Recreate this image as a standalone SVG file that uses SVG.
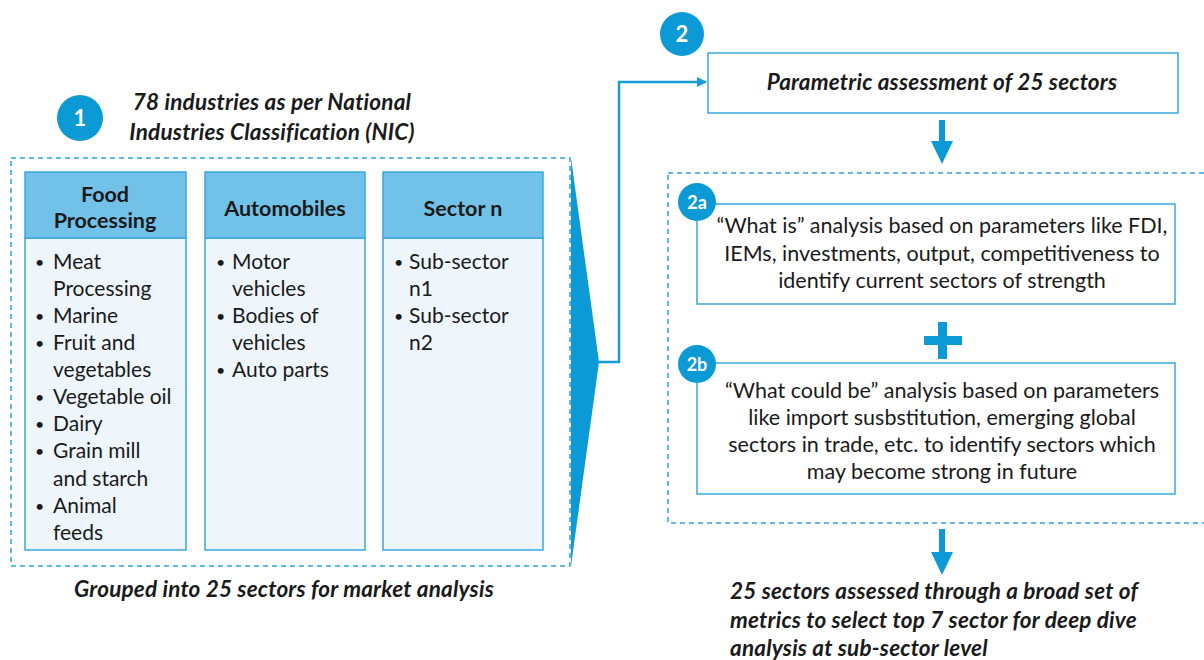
<svg xmlns="http://www.w3.org/2000/svg" width="1204" height="660" viewBox="0 0 1204 660">
<style>
text{font-family:Lato,"Noto Sans","Liberation Sans",sans-serif;fill:#1a1a1a}
.t{font-size:21px}
.t2{font-size:21.5px}
.bl{font-size:16px}
.bi{font-size:22.5px;font-weight:bold;font-style:italic;letter-spacing:0.2px}
.hd{font-size:21.5px;font-weight:bold;text-anchor:middle}
.c{text-anchor:middle}
.num{font-weight:bold;fill:#fff;text-anchor:middle}
.dash{fill:none;stroke:#2ea3dc;stroke-width:1.5;stroke-dasharray:5 4}
.hdr{fill:#72c1e9;stroke:#3aa8e0;stroke-width:1.5}
.body{fill:#eef5fb;stroke:#3aa8e0;stroke-width:1.5}
.box{fill:#fff;stroke:#3aa8e0;stroke-width:1.5}
.circ{fill:#0c9ad6}
</style>
<defs>
<marker id="ah" markerWidth="10" markerHeight="10" refX="9" refY="5" orient="auto" markerUnits="userSpaceOnUse">
<path d="M0,0 L10,5 L0,10 Z" fill="#1a9ad6"/>
</marker>
</defs>

<g id="node1">
<circle class="circ" cx="80" cy="118" r="23"/>
<text class="num" x="80" y="126" font-size="22">1</text>
<text class="bi c" x="272" y="110">78 industries as per National</text>
<text class="bi c" x="272" y="140">Industries Classification (NIC)</text>
<rect class="dash" x="11" y="158" width="559" height="408"/>
<text class="bi c" x="284" y="597">Grouped into 25 sectors for market analysis</text>
</g>

<g id="col-food">
<rect class="body" x="25" y="238" width="161" height="312"/>
<rect class="hdr" x="25" y="172" width="161" height="66"/>
<text class="hd" x="105" y="202">Food</text>
<text class="hd" x="105" y="228">Processing</text>
<g class="t">
<text class="bl" x="35" y="268">•</text><text x="53" y="269">Meat</text>
<text x="53" y="296">Processing</text>
<text class="bl" x="35" y="322">•</text><text x="53" y="323">Marine</text>
<text class="bl" x="35" y="349">•</text><text x="53" y="350">Fruit and</text>
<text x="53" y="377">vegetables</text>
<text class="bl" x="35" y="403">•</text><text x="53" y="404">Vegetable oil</text>
<text class="bl" x="35" y="430">•</text><text x="53" y="431">Dairy</text>
<text class="bl" x="35" y="457">•</text><text x="53" y="458">Grain mill</text>
<text x="53" y="486">and starch</text>
<text class="bl" x="35" y="512">•</text><text x="53" y="513">Animal</text>
<text x="53" y="540">feeds</text>
</g>
</g>

<g id="col-auto">
<rect class="body" x="205" y="238" width="160" height="312"/>
<rect class="hdr" x="205" y="172" width="160" height="66"/>
<text class="hd" x="285" y="216">Automobiles</text>
<g class="t">
<text class="bl" x="216" y="268">•</text><text x="232" y="269">Motor</text>
<text x="232" y="296">vehicles</text>
<text class="bl" x="216" y="322">•</text><text x="232" y="323">Bodies of</text>
<text x="232" y="350">vehicles</text>
<text class="bl" x="216" y="376">•</text><text x="232" y="377">Auto parts</text>
</g>
</g>

<g id="col-sector-n">
<rect class="body" x="383" y="238" width="160" height="312"/>
<rect class="hdr" x="383" y="172" width="160" height="66"/>
<text class="hd" x="463" y="216">Sector n</text>
<g class="t">
<text class="bl" x="394" y="268">•</text><text x="409" y="269">Sub-sector</text>
<text x="409" y="296">n1</text>
<text class="bl" x="394" y="322">•</text><text x="409" y="323">Sub-sector</text>
<text x="409" y="350">n2</text>
</g>
</g>

<g id="node2">
<rect class="box" x="708" y="53" width="470" height="60"/>
<circle class="circ" cx="682" cy="34" r="22"/>
<text class="num" x="682" y="42" font-size="22">2</text>
<text class="bi c" x="942" y="90">Parametric assessment of 25 sectors</text>
</g>

<g id="group2">
<rect class="dash" x="668" y="173" width="540" height="350"/>
</g>

<g id="node2a">
<rect class="box" x="697" y="204" width="478" height="100"/>
<circle class="circ" cx="697" cy="202" r="19"/>
<text class="num" x="697" y="209" font-size="18">2a</text>
<g class="t2 c">
<text x="942" y="233">“What is” analysis based on parameters like FDI,</text>
<text x="942" y="261">IEMs, investments, output, competitiveness to</text>
<text x="942" y="288">identify current sectors of strength</text>
</g>
</g>

<g id="plus">
<rect x="924" y="336" width="38" height="9" fill="#0c9ad6"/>
<rect x="938" y="322" width="9" height="37" fill="#0c9ad6"/>
</g>

<g id="node2b">
<rect class="box" x="697" y="363" width="478" height="131"/>
<circle class="circ" cx="697" cy="364" r="19"/>
<text class="num" x="697" y="371" font-size="18">2b</text>
<g class="t2 c">
<text x="942" y="398">“What could be” analysis based on parameters</text>
<text x="942" y="425">like import susbstitution, emerging global</text>
<text x="942" y="452">sectors in trade, etc. to identify sectors which</text>
<text x="942" y="479">may become strong in future</text>
</g>
</g>

<g id="result">
<text class="bi" x="730" y="599">25 sectors assessed through a broad set of</text>
<text class="bi" x="730" y="628">metrics to select top 7 sector for deep dive</text>
<text class="bi" x="730" y="656">analysis at sub-sector level</text>
</g>

<g id="connectors">
<polygon points="571,158 599,362 571,566" fill="#0c9ad6"/>
<polyline points="598,362 619,362 619,82 706,82" fill="none" stroke="#1a9ad6" stroke-width="2.5" marker-end="url(#ah)"/>
<polygon points="939,120 945,120 945,141 953,141 942,164 931,141 939,141" fill="#0c9ad6"/>
<polygon points="939,529 945,529 945,552 953,552 942,575 931,552 939,552" fill="#0c9ad6"/>
</g>
</svg>
